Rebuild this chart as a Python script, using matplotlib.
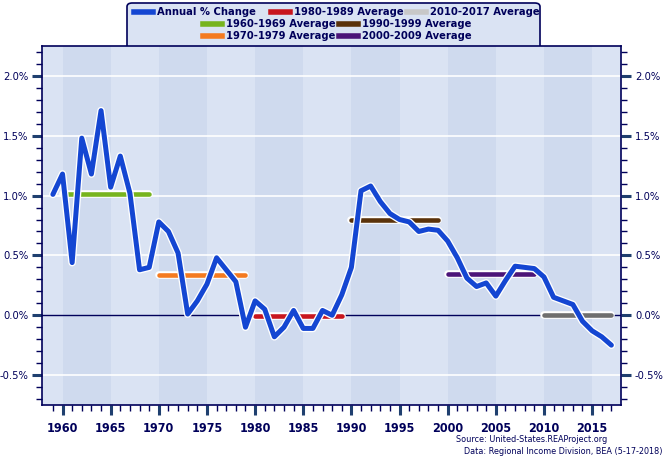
import numpy as np
import matplotlib
matplotlib.use("Agg")
import matplotlib.pyplot as plt
import matplotlib.patheffects as pe
from matplotlib.patches import FancyBboxPatch
from matplotlib.lines import Line2D

plt.rcParams['font.family'] = ['DejaVu Sans']
plt.rcParams['font.stretch'] = 'condensed'

# --- data ---
years = list(range(1959, 2018))
pct_change = [1.01, 1.18, 0.44, 1.48, 1.18, 1.71, 1.07, 1.33, 1.02, 0.38,
              0.40, 0.78, 0.70, 0.52, 0.01, 0.12, 0.26, 0.48, 0.38, 0.28,
              -0.10, 0.12, 0.05, -0.18, -0.10, 0.04, -0.11, -0.11, 0.04, 0.00,
              0.17, 0.40, 1.04, 1.08, 0.95, 0.85, 0.80, 0.78, 0.70, 0.72,
              0.71, 0.62, 0.48, 0.31, 0.24, 0.27, 0.16, 0.29, 0.41, 0.40,
              0.39, 0.32, 0.15, 0.12, 0.09, -0.05, -0.13, -0.18, -0.25]

avg_labels = ['1960-1969 Average', '1970-1979 Average', '1980-1989 Average',
              '1990-1999 Average', '2000-2009 Average', '2010-2017 Average']
avg_start = [1960, 1970, 1980, 1990, 2000, 2010]
avg_end = [1969, 1979, 1989, 1999, 2009, 2017]
avg_vals = [1.01, 0.34, -0.01, 0.80, 0.345, 0.005]
avg_colors = ['#77B41E', '#F47A20', '#C8161E', '#5A320A', '#4B1478', '#6E6E6E']
legend_colors = ['#77B41E', '#F47A20', '#C8161E', '#5A320A', '#4B1478', '#C8C8C8']

navy = '#00005A'
light_bg = '#DAE3F3'
dark_bg = '#CFDAEE'

W, H = 665, 459
fig = plt.figure(figsize=(W / 100, H / 100), dpi=100)
ax = fig.add_axes([42.3 / W, 1 - 405 / H, (621 - 42.3) / W, (405 - 46) / H])
ax.set_facecolor(light_bg)

# alternating vertical bands
for start in range(1960, 2015, 10):
    ax.axvspan(start, start + 5, color=dark_bg, lw=0, zorder=0)

# white gridlines, navy zero line
for v in [-0.5, 0.5, 1.0, 1.5, 2.0]:
    ax.axhline(v, color='white', lw=1.2, zorder=1)
ax.axhline(0, color=navy, lw=1, zorder=1)

white_edge = [pe.Stroke(linewidth=5.5, foreground='white'), pe.Normal()]

for s, e, v, c in zip(avg_start, avg_end, avg_vals, avg_colors):
    ax.plot([s, e], [v, v], color=c, lw=3.3, solid_capstyle='round',
            path_effects=white_edge, zorder=3)

ax.plot(years, pct_change, color='#1446D2', lw=3.6, solid_joinstyle='round',
        solid_capstyle='round', path_effects=white_edge, zorder=4)

ax.set_xlim(1957.9, 2018)
ax.set_ylim(-0.75, 2.25)

ax.set_xticks(range(1960, 2016, 5))
ax.set_xticks(range(1959, 2018), minor=True)
ax.set_yticks([-0.5, 0, 0.5, 1.0, 1.5, 2.0])
ax.set_yticks(np.arange(-0.7, 2.25, 0.1), minor=True)
ax.set_yticklabels(['-0.5%', '0.0%', '0.5%', '1.0%', '1.5%', '2.0%'])
ax.set_xticklabels([str(y) for y in range(1960, 2016, 5)], fontweight='bold')

ax.tick_params(axis='both', which='major', direction='out', length=7, width=2.2,
               color='#1F3F6F', labelcolor=navy, labelsize=9)
ax.tick_params(axis='both', which='minor', direction='out', length=4, width=1,
               color=navy)
ax.tick_params(axis='y', which='both', right=True, labelright=True)
ax.tick_params(axis='y', labelsize=8, pad=3)
ax.tick_params(axis='x', pad=5)

for sp in ax.spines.values():
    sp.set_color(navy)
    sp.set_linewidth(1.2)

# --- legend box with rounded top corners ---
box = FancyBboxPatch((127 / W, 1 - 60 / H), (540 - 127) / W, (60 - 3) / H,
                     boxstyle='round,pad=0,rounding_size=0.008',
                     transform=fig.transFigure, facecolor=light_bg,
                     edgecolor=navy, lw=1.2, zorder=-1)
fig.patches.append(box)


def legend_item(x, y, label, color):
    fy = 1 - y / H
    fig.add_artist(Line2D([x / W, (x + 19) / W], [fy, fy], color=color, lw=4,
                          transform=fig.transFigure))
    fig.text((x + 23) / W, fy, label, ha='left', va='center', color=navy,
             fontsize=8, fontweight='bold')


legend_item(134, 12, 'Annual % Change', '#1446D2')
legend_item(271, 12, avg_labels[2], legend_colors[2])
legend_item(407, 12, avg_labels[5], legend_colors[5])
legend_item(203, 24, avg_labels[0], legend_colors[0])
legend_item(339, 24, avg_labels[3], legend_colors[3])
legend_item(203, 36, avg_labels[1], legend_colors[1])
legend_item(339, 36, avg_labels[4], legend_colors[4])

fig.text(607 / W, 1 - 440 / H, 'Source: United-States.REAProject.org',
         ha='right', va='center', color=navy, fontsize=6.5)
fig.text(663 / W, 1 - 451 / H, 'Data: Regional Income Division, BEA (5-17-2018)',
         ha='right', va='center', color=navy, fontsize=6.5)

fig.savefig('out.png', dpi=100, facecolor='white')
